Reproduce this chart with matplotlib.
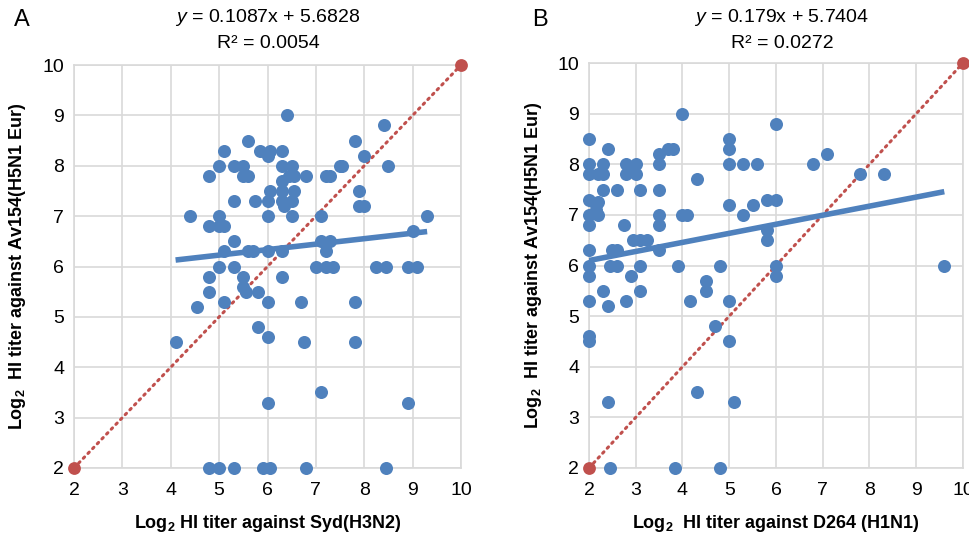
import matplotlib
matplotlib.use("Agg")
import matplotlib.pyplot as plt
from matplotlib import font_manager as fm
import numpy as np

names = {f.name for f in fm.fontManager.ttflist}
FONT = "Liberation Sans Narrow" if "Liberation Sans Narrow" in names else "Liberation Sans"
plt.rcParams['font.family'] = [FONT, 'DejaVu Sans']
plt.rcParams['mathtext.fontset'] = 'custom'
plt.rcParams['mathtext.rm'] = FONT
plt.rcParams['mathtext.it'] = FONT + ':italic'
plt.rcParams['mathtext.bf'] = FONT + ':bold'

# Panel A data
a_x = [6.4, 8.4, 5.6, 7.8, 5.1, 5.85, 6.05, 6.3, 6.0, 8.0,
       5.0, 5.3, 5.5, 6.3, 6.5, 7.5, 7.55, 8.5,
       4.8, 5.5, 5.6, 6.45, 6.55, 6.8, 7.2, 7.3, 6.3,
       6.05, 6.3, 6.55, 7.9, 5.3, 5.75, 6.0, 6.3, 6.5,
       6.35, 7.9, 8.0, 4.4, 5.0, 6.0, 6.5, 7.1, 9.3,
       4.8, 5.0, 5.1, 9.0, 5.3, 7.1, 7.3,
       5.1, 5.6, 5.7, 6.0, 6.3, 7.2,
       5.0, 5.3, 7.0, 7.2, 7.35, 8.25, 8.45, 8.9, 9.1,
       4.8, 5.5, 6.3, 5.5, 4.8, 5.55, 5.8, 4.55,
       5.1, 6.0, 6.7, 7.8, 5.8, 4.1, 6.0, 6.75, 7.8,
       7.1, 6.0, 8.9, 4.8, 5.0, 5.3, 5.9, 6.05, 6.8, 8.45]
a_y = [9.0, 8.8, 8.5, 8.5, 8.3, 8.3, 8.3, 8.3, 8.2, 8.2,
       8.0, 8.0, 8.0, 8.0, 8.0, 8.0, 8.0, 8.0,
       7.8, 7.8, 7.8, 7.8, 7.8, 7.8, 7.8, 7.8, 7.7,
       7.5, 7.5, 7.5, 7.5, 7.3, 7.3, 7.3, 7.3, 7.3,
       7.2, 7.2, 7.2, 7.0, 7.0, 7.0, 7.0, 7.0, 7.0,
       6.8, 6.8, 6.8, 6.7, 6.5, 6.5, 6.5,
       6.3, 6.3, 6.3, 6.3, 6.3, 6.3,
       6.0, 6.0, 6.0, 6.0, 6.0, 6.0, 6.0, 6.0, 6.0,
       5.8, 5.8, 5.8, 5.6, 5.5, 5.5, 5.5, 5.2,
       5.3, 5.3, 5.3, 5.3, 4.8, 4.5, 4.6, 4.5, 4.5,
       3.5, 3.3, 3.3, 2, 2, 2, 2, 2, 2, 2]

# Panel B data
b_x = [4.0, 6.0, 2.0, 5.0, 2.4, 3.7, 3.8, 5.0, 3.5, 7.1,
       2.0, 2.3, 2.8, 3.0, 3.5, 5.0, 5.3, 5.6, 6.8, 2.9,
       2.0, 2.2, 2.3, 2.8, 3.0, 7.8, 8.3, 4.3,
       2.3, 2.6, 3.1, 3.5, 2.0, 2.2, 5.8, 6.0,
       2.15, 5.0, 5.5, 2.15,
       2.0, 2.2, 3.5, 4.0, 4.1, 5.3,
       2.0, 2.75, 3.5, 5.8, 2.95, 3.1, 3.25, 5.8,
       2.0, 2.5, 2.6, 3.5,
       2.0, 2.45, 2.6, 3.1, 3.9, 4.8, 6.0, 9.6,
       2.0, 2.9, 6.0, 4.5, 2.3, 3.1, 4.5,
       2.0, 2.8, 4.15, 5.0, 2.4, 4.7, 2.0, 2.0, 5.0,
       4.3, 2.4, 5.1, 2.45, 3.85, 4.8]
b_y = [9.0, 8.8, 8.5, 8.5, 8.3, 8.3, 8.3, 8.3, 8.2, 8.2,
       8.0, 8.0, 8.0, 8.0, 8.0, 8.0, 8.0, 8.0, 8.0, 7.9,
       7.8, 7.8, 7.8, 7.8, 7.8, 7.8, 7.8, 7.7,
       7.5, 7.5, 7.5, 7.5, 7.3, 7.25, 7.3, 7.3,
       7.2, 7.2, 7.2, 7.1,
       7.0, 7.0, 7.0, 7.0, 7.0, 7.0,
       6.8, 6.8, 6.8, 6.7, 6.5, 6.5, 6.5, 6.5,
       6.3, 6.3, 6.3, 6.3,
       6.0, 6.0, 6.0, 6.0, 6.0, 6.0, 6.0, 6.0,
       5.8, 5.8, 5.8, 5.7, 5.5, 5.5, 5.5,
       5.3, 5.3, 5.3, 5.3, 5.2, 4.8, 4.6, 4.5, 4.5,
       3.5, 3.3, 3.3, 2, 2, 2]

fits = [(0.1087, 5.6828, "0.0054"), (0.179, 5.7404, "0.0272")]
xlabels = ["Log$_\\mathbf{2}$ HI titer against Syd(H3N2)",
           "Log$_\\mathbf{2}$  HI titer against D264 (H1N1)"]
ylabel = "Log$_\\mathbf{2}$  HI titer against Av154(H5N1 Eur)"
panel_letters = ["A", "B"]
ticks = [2, 3, 4, 5, 6, 7, 8, 9, 10]

BLUE = "#4F81BD"
RED = "#C0504D"
GRID = "#D9D9D9"

fig = plt.figure(figsize=(9.7, 5.38), dpi=100)
rects = [[74/970, 1-468/538, 387/970, 403/538],
         [589/970, 1-468/538, 374/970, 405/538]]
ylab_x = [18/970, 534/970]
letter_x = [14/970, 532/970]
title_cx = [268/970, 782/970]

for i, (xs, ys) in enumerate([(a_x, a_y), (b_x, b_y)]):
    ax = fig.add_axes(rects[i])
    ax.set_xlim(2, 10)
    ax.set_ylim(2, 10)
    ax.set_xticks(ticks)
    ax.set_yticks(ticks)
    ax.grid(True, color=GRID, lw=1.2)
    ax.set_axisbelow(True)
    for s in ax.spines.values():
        s.set_color(GRID)
        s.set_linewidth(1.2)
    ax.tick_params(length=0, labelsize=14, pad=7)
    ax.tick_params(axis='x', pad=10)
    # identity line
    ax.plot([2, 10], [2, 10], color=RED, lw=2.2, ls=(0, (0.6, 1.6)),
            dash_capstyle='round', zorder=2)
    ax.scatter([2, 10], [2, 10], s=85, color=RED, zorder=4, clip_on=False, lw=0)
    ax.scatter(xs, ys, s=88, color=BLUE, zorder=3, clip_on=False, lw=0)
    m, b, r2 = fits[i]
    xx = np.array([min(xs), max(xs)])
    ax.plot(xx, m*xx + b, color=BLUE, lw=4, solid_capstyle='butt', zorder=3)
    fig.text(title_cx[i], 1-18/538, f"$y$ = {m}x + {b}", ha='center', va='center', fontsize=14)
    fig.text(title_cx[i], 1-43/538, f"R² = {r2}", ha='center', va='center', fontsize=14)
    fig.text(letter_x[i], 1-20/538, panel_letters[i], ha='left', va='center', fontsize=17)
    ax.set_xlabel(xlabels[i], fontsize=13, fontweight='bold', labelpad=10)
    fig.text(ylab_x[i], rects[i][1] + rects[i][3]/2, ylabel, rotation=90,
             ha='center', va='center', fontsize=13, fontweight='bold')

fig.savefig("out.png", dpi=100)
